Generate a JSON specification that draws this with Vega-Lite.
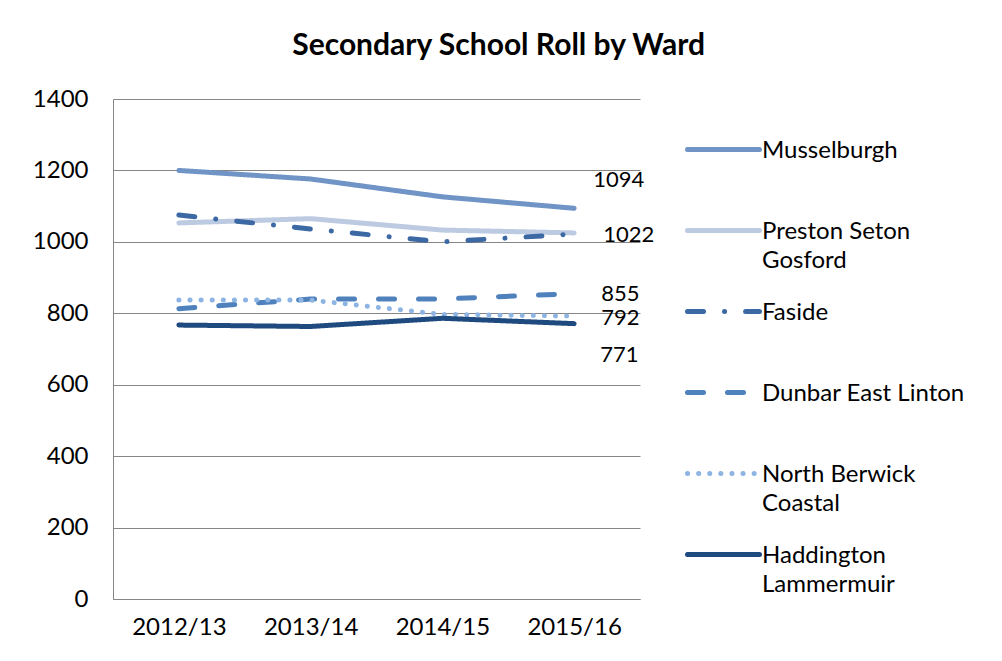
{
  "$schema": "https://vega.github.io/schema/vega-lite/v6.json",
  "width": 527,
  "height": 500,
  "autosize": {"type": "none"},
  "padding": {"left": 113, "top": 99, "right": 362, "bottom": 62},
  "background": "white",
  "title": {
    "text": "Secondary School Roll by Ward",
    "font": "Lato",
    "fontSize": 30,
    "fontWeight": "bold",
    "color": "#000000",
    "anchor": "middle",
    "frame": "bounds",
    "offset": 26
  },
  "config": {
    "font": "Lato",
    "view": {"stroke": null},
    "axis": {
      "labelFont": "Lato",
      "labelFontSize": 24,
      "labelColor": "#000000",
      "domainColor": "#868686",
      "gridColor": "#868686",
      "ticks": false,
      "title": null
    }
  },
  "data": {
    "values": [
      {"year": "2012/13", "ward": "Musselburgh", "roll": 1200},
      {"year": "2013/14", "ward": "Musselburgh", "roll": 1176},
      {"year": "2014/15", "ward": "Musselburgh", "roll": 1126},
      {"year": "2015/16", "ward": "Musselburgh", "roll": 1094},
      {"year": "2012/13", "ward": "Preston Seton Gosford", "roll": 1053},
      {"year": "2013/14", "ward": "Preston Seton Gosford", "roll": 1065},
      {"year": "2014/15", "ward": "Preston Seton Gosford", "roll": 1033},
      {"year": "2015/16", "ward": "Preston Seton Gosford", "roll": 1025},
      {"year": "2012/13", "ward": "Faside", "roll": 1075},
      {"year": "2013/14", "ward": "Faside", "roll": 1036},
      {"year": "2014/15", "ward": "Faside", "roll": 1000},
      {"year": "2015/16", "ward": "Faside", "roll": 1022},
      {"year": "2012/13", "ward": "Dunbar East Linton", "roll": 813},
      {"year": "2013/14", "ward": "Dunbar East Linton", "roll": 840},
      {"year": "2014/15", "ward": "Dunbar East Linton", "roll": 840},
      {"year": "2015/16", "ward": "Dunbar East Linton", "roll": 855},
      {"year": "2012/13", "ward": "North Berwick Coastal", "roll": 837},
      {"year": "2013/14", "ward": "North Berwick Coastal", "roll": 837},
      {"year": "2014/15", "ward": "North Berwick Coastal", "roll": 797},
      {"year": "2015/16", "ward": "North Berwick Coastal", "roll": 792},
      {"year": "2012/13", "ward": "Haddington Lammermuir", "roll": 767},
      {"year": "2013/14", "ward": "Haddington Lammermuir", "roll": 763},
      {"year": "2014/15", "ward": "Haddington Lammermuir", "roll": 786},
      {"year": "2015/16", "ward": "Haddington Lammermuir", "roll": 771}
    ]
  },
  "encoding": {
    "x": {
      "field": "year",
      "type": "ordinal",
      "scale": {"type": "point", "padding": 0.5},
      "axis": {"labelAngle": 0, "labelPadding": 16, "grid": false}
    },
    "y": {
      "field": "roll",
      "type": "quantitative",
      "scale": {"domain": [0, 1400]},
      "axis": {"values": [0, 200, 400, 600, 800, 1000, 1200, 1400], "format": "d", "labelPadding": 25, "grid": true}
    }
  },
  "layer": [
    {
      "mark": {"type": "line", "strokeWidth": 5, "strokeCap": "round"},
      "encoding": {
        "color": {
          "field": "ward",
          "type": "nominal",
          "scale": {
            "domain": ["Musselburgh", "Preston Seton Gosford", "Faside", "Dunbar East Linton", "North Berwick Coastal", "Haddington Lammermuir"],
            "range": ["#7094c6", "#bccae2", "#3c69a3", "#4f81bd", "#8db4e3", "#1f4a7f"]
          },
          "legend": {
            "title": null,
            "orient": "none",
            "legendX": 572,
            "legendY": 12,
            "symbolType": "stroke",
            "symbolSize": 5184,
            "symbolStrokeWidth": 5,
            "labelFont": "Lato",
            "labelFontSize": 24,
            "labelColor": "#000000",
            "labelLimit": 300,
            "labelOffset": 0,
            "rowPadding": 0,
            "labelBaseline": "alphabetic",
            "labelExpr": "datum.label == 'Preston Seton Gosford' ? ['Preston Seton', 'Gosford'] : datum.label == 'North Berwick Coastal' ? ['North Berwick', 'Coastal'] : datum.label == 'Haddington Lammermuir' ? ['Haddington', 'Lammermuir'] : [datum.label, ' ']",
            "encode": {
              "symbols": {"update": {"strokeCap": {"value": "round"}}},
              "labels": {"update": {"dy": {"value": 8}, "lineHeight": {"value": 29}}}
            }
          }
        },
        "strokeDash": {
          "field": "ward",
          "type": "nominal",
          "scale": {
            "domain": ["Musselburgh", "Preston Seton Gosford", "Faside", "Dunbar East Linton", "North Berwick Coastal", "Haddington Lammermuir"],
            "range": [[1, 0], [1, 0], [16, 21, 0.1, 21], [16, 24], [0.1, 11], [1, 0]]
          },
          "legend": null
        }
      }
    },
    {
      "transform": [{"filter": "datum.year == '2015/16' && datum.ward == 'Musselburgh'"}],
      "mark": {"type": "text", "align": "left", "dx": 19, "dy": -28, "fontSize": 22, "font": "Lato", "color": "#000000"},
      "encoding": {"text": {"field": "roll", "type": "quantitative"}}
    },
    {
      "transform": [{"filter": "datum.year == '2015/16' && datum.ward == 'Faside'"}],
      "mark": {"type": "text", "align": "left", "dx": 29, "dy": 1, "fontSize": 22, "font": "Lato", "color": "#000000"},
      "encoding": {"text": {"field": "roll", "type": "quantitative"}}
    },
    {
      "transform": [{"filter": "datum.year == '2015/16' && datum.ward == 'Dunbar East Linton'"}],
      "mark": {"type": "text", "align": "left", "dx": 27, "dy": 0, "fontSize": 22, "font": "Lato", "color": "#000000"},
      "encoding": {"text": {"field": "roll", "type": "quantitative"}}
    },
    {
      "transform": [{"filter": "datum.year == '2015/16' && datum.ward == 'North Berwick Coastal'"}],
      "mark": {"type": "text", "align": "left", "dx": 27, "dy": 2, "fontSize": 22, "font": "Lato", "color": "#000000"},
      "encoding": {"text": {"field": "roll", "type": "quantitative"}}
    },
    {
      "transform": [{"filter": "datum.year == '2015/16' && datum.ward == 'Haddington Lammermuir'"}],
      "mark": {"type": "text", "align": "left", "dx": 26, "dy": 31, "fontSize": 22, "font": "Lato", "color": "#000000"},
      "encoding": {"text": {"field": "roll", "type": "quantitative"}}
    }
  ]
}
